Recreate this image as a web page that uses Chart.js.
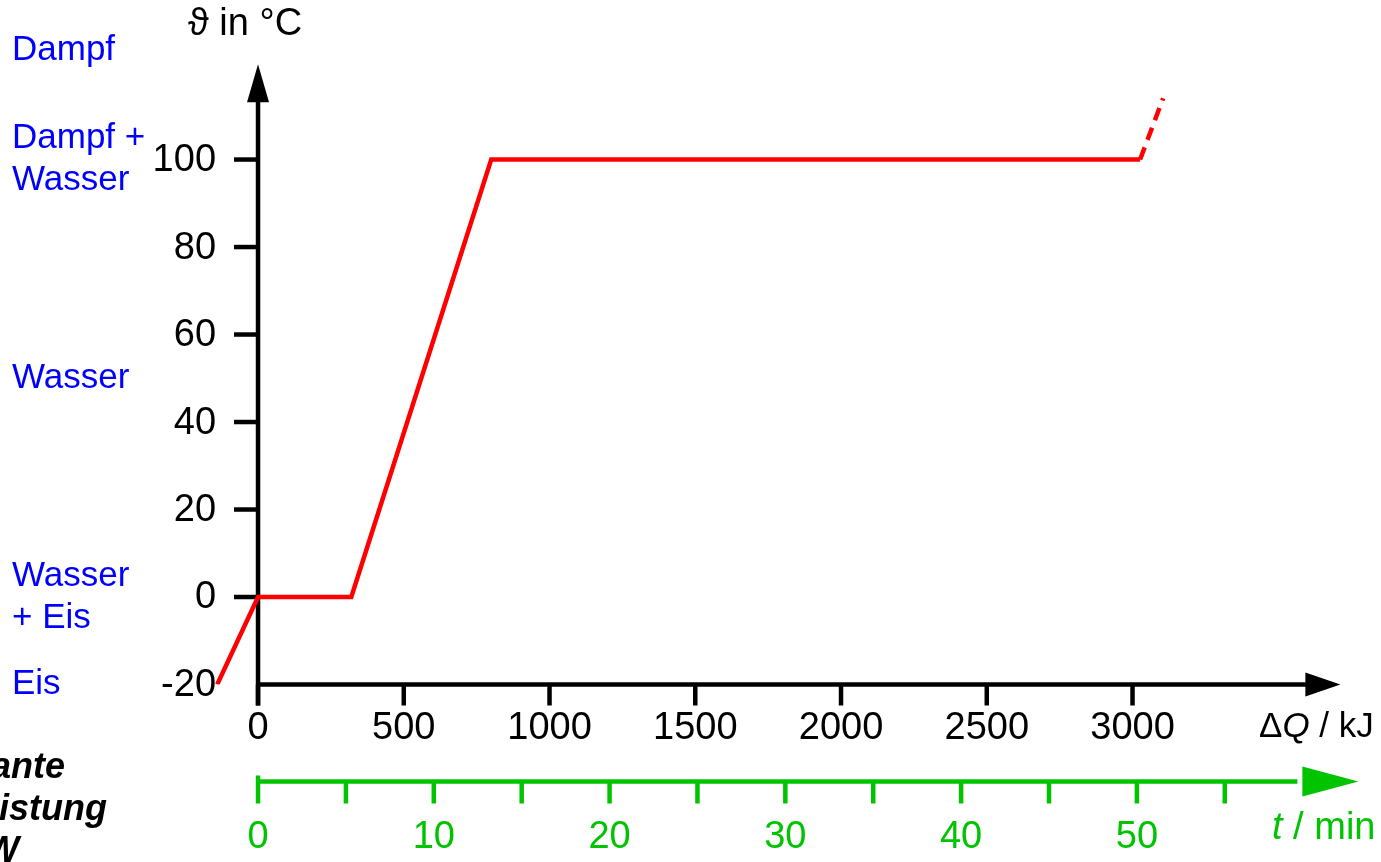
<!DOCTYPE html>
<html>
<head>
<meta charset="utf-8">
<script src="https://cdn.jsdelivr.net/npm/chart.js@4"></script>
<style>
  body { margin: 0; background: #fff; }
  canvas { display: block; }
</style>
</head>
<body>
<canvas id="chart" width="1381" height="862"></canvas>
<script>
// Heizkurve Wasser, Werte
const heatKJ = [-140, 0, 320, 800, 3026];
const heatC = [-20, 0, 0, 100, 100];
const steamKJ = [3026, 3105];
const steamC = [100, 114];

const qMin = -150, qMax = 3720;
const tempMin = -20, tempMax = 122;

const qTicks = [0, 500, 1000, 1500, 2000, 2500, 3000];
const tempTicks = [-20, 0, 20, 40, 60, 80, 100];
const timeTicks = [0, 5, 10, 15, 20, 25, 30, 35, 40, 45, 50, 55];
const timeLabels = [0, 10, 20, 30, 40, 50];
const kJPerMin = 60.3;

const phaseNames = [['Dampf'], ['Dampf +', 'Wasser'], ['Wasser'], ['Wasser', '+ Eis'], ['Eis']];
const phaseTemps = [125, 100, 50, 0, -20];

const noteLines = ['konstante', 'Heizleistung', '1000 W'];

const FONT = '"Liberation Sans", Arial, sans-serif';
const GREEN = '#00c400';

function seg(ctx, x1, y1, x2, y2) {
  ctx.beginPath();
  ctx.moveTo(x1, y1);
  ctx.lineTo(x2, y2);
  ctx.stroke();
}
function tri(ctx, pts) {
  ctx.beginPath();
  ctx.moveTo(pts[0], pts[1]);
  ctx.lineTo(pts[2], pts[3]);
  ctx.lineTo(pts[4], pts[5]);
  ctx.closePath();
  ctx.fill();
}
// draw pieces of text one after another, some italic
function pieces(ctx, x, y, parts, size) {
  parts.forEach(p => {
    ctx.font = (p[1] ? 'italic ' : '') + size + 'px ' + FONT;
    ctx.fillText(p[0], x, y);
    x += ctx.measureText(p[0]).width;
  });
}

const arrowAxes = {
  id: 'arrowAxes',
  beforeDatasetsDraw(chart) {
    const ctx = chart.ctx;
    const xs = chart.scales.x, ys = chart.scales.y, ts = chart.scales.t;
    const area = chart.chartArea;
    const x0 = xs.getPixelForValue(0);
    const yb = ys.getPixelForValue(tempMin);

    ctx.save();
    ctx.strokeStyle = '#000';
    ctx.fillStyle = '#000';
    ctx.lineWidth = 4.5;

    // y axis with arrow
    seg(ctx, x0, yb + 21, x0, area.top + 30);
    tri(ctx, [x0, area.top + 1, x0 - 11, area.top + 39, x0 + 11, area.top + 39]);
    // x axis with arrow
    seg(ctx, x0, yb, area.right - 30, yb);
    tri(ctx, [area.right - 2, yb, area.right - 37, yb - 12, area.right - 37, yb + 12]);

    ctx.font = '38px ' + FONT;
    ctx.textBaseline = 'middle';
    ctx.textAlign = 'right';
    tempTicks.forEach(v => {
      const py = ys.getPixelForValue(v);
      if (v !== tempMin) seg(ctx, x0 - 24, py, x0, py);
      ctx.fillText(String(v), x0 - 42, py + 1);
    });
    ctx.textAlign = 'center';
    qTicks.forEach(v => {
      const px = xs.getPixelForValue(v);
      seg(ctx, px, yb, px, yb + 21);
      ctx.fillText(String(v), px, yb + 44);
    });
    ctx.textAlign = 'left';
    pieces(ctx, 1259, yb + 43, [['\u0394', false], ['Q', true], [' / kJ', false]], 35);

    // axis title
    pieces(ctx, 188, 25, [['\u03D1 in \u00B0C', false]], 38);

    // time axis
    const gy = yb + 97;
    ctx.strokeStyle = GREEN;
    ctx.fillStyle = GREEN;
    seg(ctx, x0, gy, area.right - 45, gy);
    tri(ctx, [area.right + 16, gy, area.right - 40, gy - 15, area.right - 40, gy + 15]);
    timeTicks.forEach(v => {
      const px = ts.getPixelForValue(v);
      seg(ctx, px, v === 0 ? gy - 6 : gy, px, gy + 22);
    });
    ctx.font = '38px ' + FONT;
    ctx.textAlign = 'center';
    timeLabels.forEach(v => {
      ctx.fillText(String(v), ts.getPixelForValue(v), gy + 56);
    });
    ctx.textAlign = 'left';
    pieces(ctx, 1272, gy + 47, [['t', true], [' / min', false]], 38);

    // phase names on the left
    ctx.fillStyle = '#0000ff';
    ctx.font = '35px ' + FONT;
    phaseNames.forEach((lines, i) => {
      const py = ys.getPixelForValue(phaseTemps[i]);
      lines.forEach((s, j) => {
        ctx.fillText(s, 12, py + (j - (lines.length - 1) / 2) * 42);
      });
    });

    // note at lower left, cut by the page edge
    ctx.fillStyle = '#000';
    ctx.font = 'italic bold 36px ' + FONT;
    ctx.textBaseline = 'alphabetic';
    noteLines.forEach((s, i) => ctx.fillText(s, -105, 778 + i * 42));
    ctx.restore();
  }
};

new Chart(document.getElementById('chart'), {
  type: 'line',
  data: {
    datasets: [
      {
        data: heatKJ.map((q, i) => ({ x: q, y: heatC[i] })),
        borderColor: '#ff0000',
        borderWidth: 4.5,
        pointRadius: 0,
        tension: 0
      },
      {
        data: steamKJ.map((q, i) => ({ x: q, y: steamC[i] })),
        borderColor: '#ff0000',
        borderWidth: 4.5,
        borderDash: [13, 8],
        pointRadius: 0,
        tension: 0
      }
    ]
  },
  options: {
    responsive: false,
    animation: false,
    layout: { padding: { left: 214.3, right: 38.6, top: 63.3, bottom: 177.5 } },
    plugins: { legend: { display: false }, tooltip: { enabled: false } },
    scales: {
      x: { type: 'linear', min: qMin, max: qMax, display: false },
      t: { type: 'linear', axis: 'x', min: qMin / kJPerMin, max: qMax / kJPerMin, display: false },
      y: { type: 'linear', min: tempMin, max: tempMax, display: false }
    }
  },
  plugins: [arrowAxes]
});
</script>
</body>
</html>
